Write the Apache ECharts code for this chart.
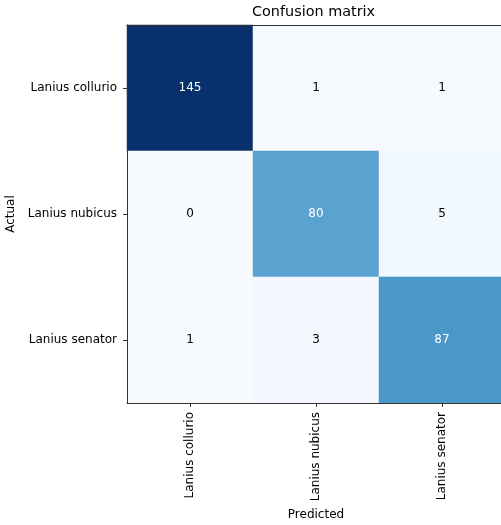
<!DOCTYPE html>
<html><head><meta charset="utf-8">
<script src="https://cdn.jsdelivr.net/npm/echarts@6/dist/echarts.min.js"></script>
<style>html,body{margin:0;padding:0;background:#fff}#c{width:501px;height:525px}</style>
</head><body><div id="c"></div>
<script>
const categories = ['Lanius collurio', 'Lanius nubicus', 'Lanius senator'];
const rowCollurio = [145, 1, 1];
const rowNubicus = [0, 80, 5];
const rowSenator = [1, 3, 87];
const titleText = 'Confusion matrix';
const xName = 'Predicted';
const yName = 'Actual';

const rows = [rowCollurio, rowNubicus, rowSenator];
const maxVal = Math.max(...rows.flat());
const thresh = maxVal / 2;
const data = [];
rows.forEach((r, i) => r.forEach((v, j) => {
  data.push({ value: [j, i, v], label: { color: v > thresh ? '#ffffff' : '#000000' } });
}));
const FONT = 'DejaVu Sans';
const chart = echarts.init(document.getElementById('c'), null, { renderer: 'canvas' });
chart.setOption({
  animation: false,
  backgroundColor: '#ffffff',
  graphic: [{
    type: 'text', left: 314 - 62, top: 5,
    style: { text: titleText, font: '14.4px "DejaVu Sans"', fill: '#000' }
  }],
  grid: { left: 127, top: 25, width: 378, height: 378, containLabel: false, outerBoundsMode: 'none' },
  visualMap: {
    show: false, min: 0, max: maxVal, dimension: 2,
    inRange: { color: ['#f7fbff', '#deebf7', '#c6dbef', '#9ecae1', '#6baed6', '#4292c6', '#2171b5', '#08519c', '#08306b'] }
  },
  xAxis: [{
    type: 'category', data: categories, position: 'bottom',
    name: xName, nameLocation: 'middle', nameGap: 100,
    nameTextStyle: { fontFamily: FONT, fontSize: 12, color: '#000' },
    axisLine: { show: true, lineStyle: { color: '#333', width: 1 } },
    axisTick: { show: true, alignWithLabel: true, length: 4, lineStyle: { color: '#333' } },
    axisLabel: { rotate: 90, margin: 9, fontFamily: FONT, fontSize: 12, color: '#000' },
    splitLine: { show: false }, z: 10
  }, {
    type: 'category', data: categories, position: 'top',
    axisLine: { show: true, lineStyle: { color: '#333', width: 1 } },
    axisTick: { show: false }, axisLabel: { show: false }, splitLine: { show: false }, z: 10
  }],
  yAxis: {
    type: 'category', data: categories, inverse: true,
    name: yName, nameLocation: 'middle', nameGap: 108, nameRotate: 90,
    nameTextStyle: { fontFamily: FONT, fontSize: 12, color: '#000' },
    axisLine: { show: true, lineStyle: { color: '#333', width: 1 } },
    axisTick: { show: true, alignWithLabel: true, length: 4, lineStyle: { color: '#333' } },
    axisLabel: { margin: 10, fontFamily: FONT, fontSize: 12, color: '#000' },
    splitLine: { show: false }, z: 10
  },
  series: [{
    type: 'heatmap', data: data,
    label: { show: true, fontFamily: FONT, fontSize: 12, formatter: p => String(p.value[2]) },
    itemStyle: { borderWidth: 0 },
    emphasis: { disabled: true }
  }]
});
</script></body></html>
